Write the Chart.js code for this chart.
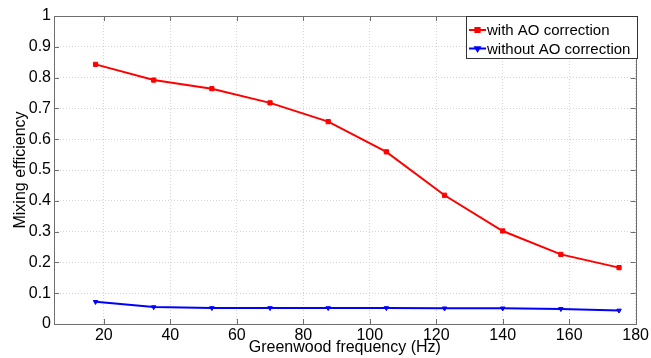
<!DOCTYPE html>
<html>
<head>
<meta charset="utf-8">
<script src="https://cdn.jsdelivr.net/npm/chart.js@4/dist/chart.umd.min.js"></script>
<style>
html,body{margin:0;padding:0;background:#fff;}
#wrap{width:651px;height:358px;position:relative;}
</style>
</head>
<body>
<div id="wrap"><canvas id="c" width="651" height="358"></canvas></div>
<script>
const frequencies = [17.5, 35, 52.5, 70, 87.5, 105, 122.5, 140, 157.5, 175];
const withAO = [0.843, 0.792, 0.764, 0.718, 0.657, 0.559, 0.418, 0.302, 0.226, 0.183];
const withoutAO = [0.072, 0.055, 0.052, 0.052, 0.052, 0.052, 0.051, 0.051, 0.049, 0.044];
const xTicks = [20, 40, 60, 80, 100, 120, 140, 160, 180];
const yTicks = [0, 0.1, 0.2, 0.3, 0.4, 0.5, 0.6, 0.7, 0.8, 0.9, 1];
const seriesLabels = ['with AO correction', 'without AO correction'];
const xTitle = 'Greenwood frequency (Hz)';
const yTitle = 'Mixing efficiency';

const FONT = "'Liberation Sans', Arial, sans-serif";

function toPts(vals){ return frequencies.map((f,i)=>({x:f,y:vals[i]})); }

const framePlugin = {
  id: 'frame',
  afterDatasetsDraw(chart){
    const {ctx, chartArea:a, scales} = chart;
    ctx.save();
    ctx.strokeStyle = '#6e6e6e';
    ctx.lineWidth = 1;
    ctx.beginPath();
    const L = 5;
    xTicks.forEach(v=>{
      const x = Math.round(scales.x.getPixelForValue(v))+0.5;
      ctx.moveTo(x, a.bottom); ctx.lineTo(x, a.bottom - L);
      ctx.moveTo(x, a.top); ctx.lineTo(x, a.top + L);
    });
    yTicks.forEach(v=>{
      const y = Math.round(scales.y.getPixelForValue(v))+0.5;
      ctx.moveTo(a.left, y); ctx.lineTo(a.left + L, y);
      ctx.moveTo(a.right, y); ctx.lineTo(a.right - L, y);
    });
    ctx.stroke();
    ctx.strokeRect(Math.round(a.left)+0.5, Math.round(a.top)+0.5, Math.round(a.right-a.left), Math.round(a.bottom-a.top));

    // legend
    const bx = 466.5, by = 16.5, bw = 171, bh = 42;
    ctx.fillStyle = '#fff';
    ctx.fillRect(bx, by, bw, bh);
    ctx.strokeStyle = '#333';
    ctx.strokeRect(bx, by, bw, bh);
    ctx.font = '15px ' + FONT;
    ctx.textBaseline = 'middle';
    ctx.textAlign = 'left';
    chart.data.datasets.forEach((ds, i)=>{
      const y = by + 13.5 + i*18.5;
      ctx.strokeStyle = ds.borderColor;
      ctx.lineWidth = 2;
      ctx.beginPath(); ctx.moveTo(469, y); ctx.lineTo(486, y); ctx.stroke();
      Chart.helpers.drawPoint(ctx, {pointStyle: ds.pointStyle, rotation: ds.pointRotation||0, radius: ds.pointRadius, borderWidth: 1}, 477.5, y);
      ctx.fillStyle = ds.borderColor;
      ctx.fill();
      ctx.fillStyle = '#000';
      ctx.fillText(ds.label, 487, y + 1);
    });
    ctx.restore();
  }
};

new Chart(document.getElementById('c'), {
  type: 'line',
  data: {
    datasets: [
      { label: seriesLabels[0], data: toPts(withAO), borderColor: '#ff0000', backgroundColor: '#ff0000',
        borderWidth: 2, pointStyle: 'rect', pointRadius: 3, pointBorderWidth: 1, tension: 0 },
      { label: seriesLabels[1], data: toPts(withoutAO), borderColor: '#0000ff', backgroundColor: '#0000ff',
        borderWidth: 2, pointStyle: 'triangle', pointRotation: 180, pointRadius: 2.6, pointBorderWidth: 1, tension: 0 }
    ]
  },
  options: {
    responsive: false,
    animation: false,
    events: [],
    layout: { padding: { top: 16, right: 13, left: 0, bottom: 0 } },
    plugins: { legend: { display: false }, tooltip: { enabled: false } },
    scales: {
      x: {
        type: 'linear', min: 5, max: 180,
        afterBuildTicks(s){ s.ticks = xTicks.map(v=>({value:v})); },
        afterFit(s){ s.height = 34; },
        grid: { color: '#d4d4d4', lineWidth: 1, drawTicks: false },
        border: { display: false, dash: [1,2] },
        ticks: { padding: 2, color: '#000', font: { size: 16, family: FONT }, maxRotation: 0, autoSkip: false },
        title: { display: true, text: xTitle, color: '#000', font: { size: 16, family: FONT }, padding: { top: 0, bottom: 1 } }
      },
      y: {
        type: 'linear', min: 0, max: 1,
        afterBuildTicks(s){ s.ticks = yTicks.map(v=>({value:v})); },
        afterFit(s){ s.width = 54; },
        grid: { color: '#d4d4d4', lineWidth: 1, drawTicks: false },
        border: { display: false, dash: [1,2] },
        ticks: { padding: 3, color: '#000', font: { size: 16, family: FONT }, callback: v => String(Math.round(v*10)/10) },
        title: { display: true, text: yTitle, color: '#000', font: { size: 16, family: FONT }, padding: { top: 11, bottom: 0 } }
      }
    }
  },
  plugins: [framePlugin]
});
</script>
</body>
</html>
